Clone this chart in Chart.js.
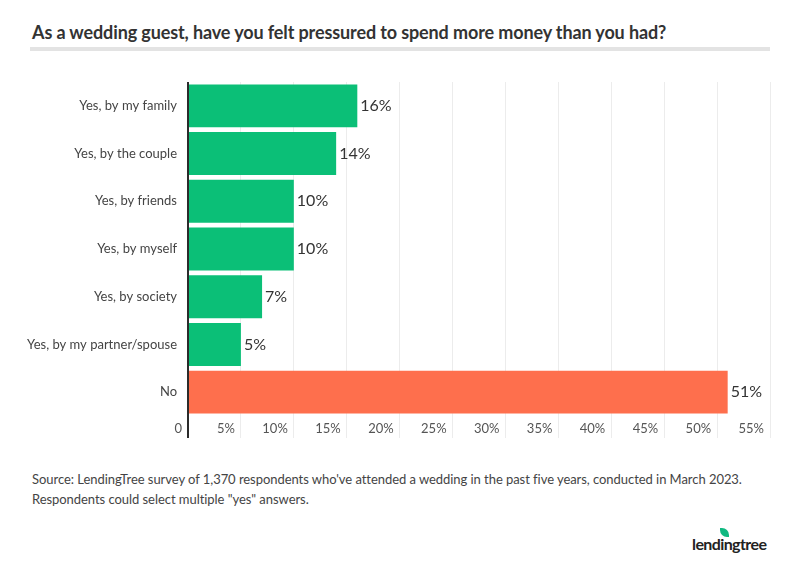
<!DOCTYPE html>
<html>
<head>
<meta charset="utf-8">
<script src="https://cdn.jsdelivr.net/npm/chart.js@4/dist/chart.umd.min.js"></script>
<style>
  html, body { margin: 0; padding: 0; background: #fff; }
  body { width: 800px; height: 571px; position: relative; font-family: Lato, "Open Sans", sans-serif; overflow: hidden; }
  #title { position: absolute; left: 32px; top: 21px; font-size: 18px; font-weight: bold; color: #333; letter-spacing: -0.12px; }
  #rule { position: absolute; left: 30px; top: 47px; width: 740px; height: 4px; background: #e3e3e3; }
  #wrap { position: absolute; left: 0; top: 0; width: 800px; height: 452px; }
  #source { position: absolute; left: 32px; top: 469px; font-size: 13px; line-height: 20px; color: #444; letter-spacing: -0.05px; }
  #logo { position: absolute; left: 692px; top: 534px; font-size: 16px; font-weight: bold; color: #222; letter-spacing: -0.6px; }
  #leaf { position: absolute; left: 720px; top: 528px; width: 9px; height: 9px; background: #10b981; border-radius: 0 7px 0 7px; }
</style>
</head>
<body>
<div id="title">As a wedding guest, have you felt pressured to spend more money than you had?</div>
<div id="rule"></div>
<div id="wrap"><canvas id="chart"></canvas></div>
<div id="source">Source: LendingTree survey of 1,370 respondents who've attended a wedding in the past five years, conducted in March 2023.<br>Respondents could select multiple "yes" answers.</div>
<div id="leaf"></div>
<div id="logo">lendingtree</div>
<script>
const categories = ['Yes, by my family', 'Yes, by the couple', 'Yes, by friends', 'Yes, by myself', 'Yes, by society', 'Yes, by my partner/spouse', 'No'];
const values = [16, 14, 10, 10, 7, 5, 51];
const barColors = ['#0bbf77', '#0bbf77', '#0bbf77', '#0bbf77', '#0bbf77', '#0bbf77', '#fe6f4d'];
const xTicks = [0, 5, 10, 15, 20, 25, 30, 35, 40, 45, 50, 55];

const valueLabels = {
    id: 'valueLabels',
    afterDatasetsDraw(chart) {
        const c = chart.ctx;
        const meta = chart.getDatasetMeta(0);
        c.save();
        c.font = '16px Lato';
        c.fillStyle = '#333';
        c.textAlign = 'left';
        c.textBaseline = 'middle';
        meta.data.forEach((bar, i) => {
            c.fillText(values[i] + '%', bar.x + 3, bar.y);
        });
        c.restore();
    }
};

new Chart(document.getElementById('chart'), {
    type: 'bar',
    data: {
        labels: categories,
        datasets: [{ data: values, backgroundColor: barColors, barPercentage: 0.9, categoryPercentage: 1 }],
    },
    options: {
        indexAxis: 'y',
        responsive: true,
        maintainAspectRatio: false,
        animation: false,
        layout: { padding: { top: 82, right: 30, left: 0, bottom: 0 } },
        plugins: { legend: { display: false }, tooltip: { enabled: false } },
        scales: {
            x: {
                min: 0, max: 55,
                afterBuildTicks: s => { s.ticks = xTicks.map(v => ({ value: v })); },
                afterFit: s => { s.height = 36; },
                border: { display: false },
                grid: {
                    color: c => c.tick && c.tick.value === 0 ? '#2b2b2b' : '#ececec',
                    lineWidth: c => c.tick && c.tick.value === 0 ? 2 : 1,
                    tickLength: 22,
                },
                ticks: {
                    align: 'end',
                    labelOffset: -6,
                    padding: -17,
                    maxRotation: 0,
                    autoSkip: false,
                    color: '#555',
                    font: { family: 'Lato', size: 13 },
                    callback: v => v === 0 ? '0' : v + '%',
                },
            },
            y: {
                afterFit: s => { s.width = 188; },
                border: { display: false },
                grid: { display: false, drawTicks: false },
                ticks: { padding: 11, color: '#444', font: { family: 'Lato', size: 13 } },
            },
        },
    },
    plugins: [valueLabels],
});
</script>
</body>
</html>
